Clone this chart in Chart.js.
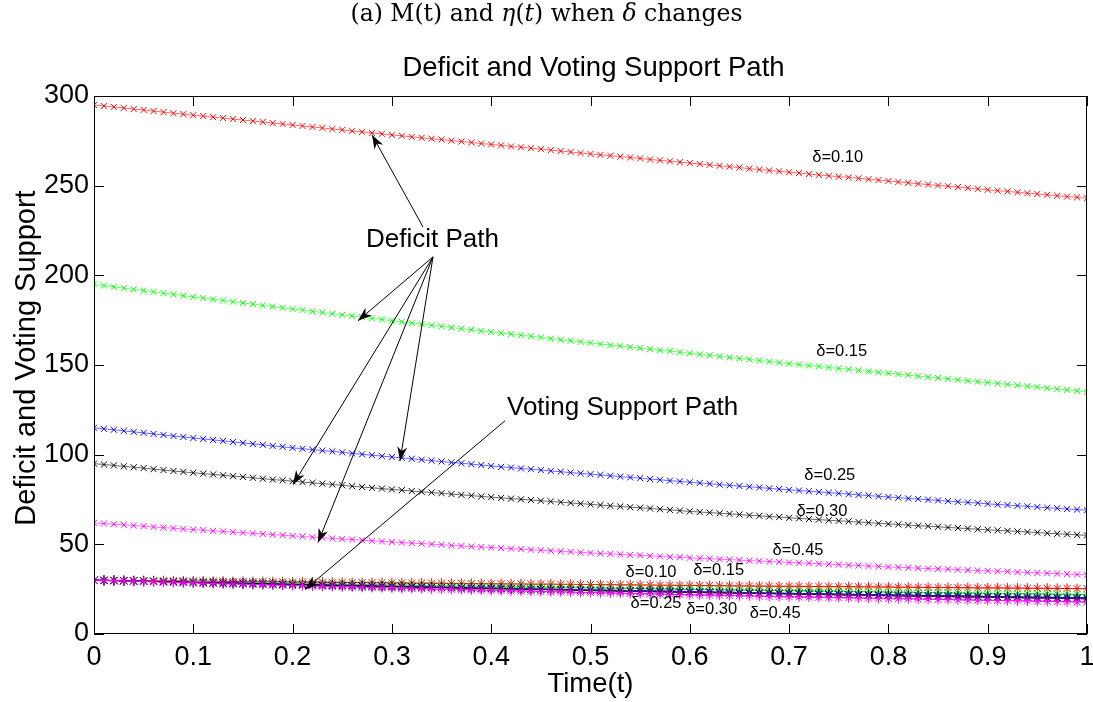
<!DOCTYPE html>
<html>
<head>
<meta charset="utf-8">
<script src="https://cdn.jsdelivr.net/npm/chart.js@4.4.0/dist/chart.umd.min.js"></script>
<style>
  html, body { margin: 0; padding: 0; background: #fff; }
  #wrap { width: 1093px; height: 702px; }
</style>
</head>
<body>
<div id="wrap"><canvas id="plot" width="1093" height="702"></canvas></div>
<script>
// time grid (t = 0 .. 1)
const times = [0,0.01,0.02,0.03,0.04,0.05,0.06,0.07,0.08,0.09,0.1,0.11,0.12,0.13,0.14,0.15,0.16,0.17,0.18,0.19,0.2,0.21,0.22,0.23,0.24,0.25,0.26,0.27,0.28,0.29,0.3,0.31,0.32,0.33,0.34,0.35,0.36,0.37,0.38,0.39,0.4,0.41,0.42,0.43,0.44,0.45,0.46,0.47,0.48,0.49,0.5,0.51,0.52,0.53,0.54,0.55,0.56,0.57,0.58,0.59,0.6,0.61,0.62,0.63,0.64,0.65,0.66,0.67,0.68,0.69,0.7,0.71,0.72,0.73,0.74,0.75,0.76,0.77,0.78,0.79,0.8,0.81,0.82,0.83,0.84,0.85,0.86,0.87,0.88,0.89,0.9,0.91,0.92,0.93,0.94,0.95,0.96,0.97,0.98,0.99,1]

// deficit path M(t)
const deficit010 = [295.0,294.4,293.9,293.3,292.7,292.2,291.6,291.0,290.4,289.9,289.3,288.8,288.2,287.7,287.1,286.6,286.0,285.5,284.9,284.4,283.8,283.3,282.7,282.2,281.6,281.1,280.5,280.0,279.4,278.9,278.3,277.8,277.2,276.7,276.2,275.7,275.1,274.6,274.1,273.5,273.0,272.5,271.9,271.4,270.9,270.4,269.8,269.3,268.8,268.2,267.7,267.2,266.7,266.2,265.7,265.2,264.6,264.1,263.6,263.1,262.6,262.1,261.6,261.1,260.6,260.1,259.5,259.0,258.5,258.0,257.5,257.0,256.5,256.0,255.5,255.0,254.6,254.1,253.6,253.1,252.6,252.1,251.6,251.1,250.6,250.1,249.7,249.2,248.7,248.2,247.7,247.2,246.8,246.3,245.8,245.4,244.9,244.4,243.9,243.5,243.0]
const deficit015 = [195.0,194.3,193.6,192.9,192.2,191.5,190.8,190.1,189.4,188.7,188.0,187.3,186.6,186.0,185.3,184.6,183.9,183.2,182.6,181.9,181.2,180.6,179.9,179.3,178.6,178.0,177.3,176.7,176.0,175.4,174.7,174.1,173.4,172.8,172.2,171.6,170.9,170.3,169.7,169.0,168.4,167.8,167.2,166.6,166.0,165.4,164.7,164.1,163.5,162.9,162.3,161.7,161.1,160.6,160.0,159.4,158.8,158.2,157.7,157.1,156.5,155.9,155.4,154.8,154.2,153.7,153.1,152.5,151.9,151.4,150.8,150.3,149.7,149.2,148.6,148.1,147.6,147.0,146.5,145.9,145.4,144.9,144.4,143.8,143.3,142.8,142.3,141.8,141.2,140.7,140.2,139.7,139.2,138.7,138.2,137.7,137.1,136.6,136.1,135.6,135.1]
const deficit025 = [115.0,114.4,113.9,113.3,112.7,112.2,111.6,111.0,110.4,109.9,109.3,108.8,108.2,107.7,107.1,106.6,106.0,105.5,104.9,104.4,103.8,103.3,102.8,102.3,101.8,101.3,100.7,100.2,99.7,99.2,98.7,98.2,97.7,97.2,96.7,96.2,95.7,95.2,94.7,94.2,93.7,93.2,92.8,92.3,91.9,91.4,90.9,90.5,90.0,89.6,89.1,88.7,88.2,87.8,87.3,86.9,86.4,86.0,85.5,85.1,84.6,84.2,83.8,83.3,82.9,82.5,82.1,81.7,81.2,80.8,80.4,80.0,79.6,79.2,78.8,78.4,78.0,77.6,77.2,76.8,76.4,76.0,75.6,75.3,74.9,74.5,74.1,73.7,73.4,73.0,72.6,72.2,71.9,71.5,71.2,70.8,70.4,70.1,69.7,69.4,69.0]
const deficit030 = [95.0,94.5,94.0,93.5,93.0,92.5,91.9,91.4,90.9,90.4,89.9,89.4,89.0,88.5,88.0,87.6,87.1,86.6,86.1,85.7,85.2,84.7,84.3,83.8,83.4,82.9,82.4,82.0,81.5,81.1,80.6,80.2,79.7,79.3,78.9,78.5,78.0,77.6,77.2,76.7,76.3,75.9,75.5,75.1,74.7,74.3,73.9,73.5,73.1,72.7,72.3,71.9,71.5,71.1,70.7,70.4,70.0,69.6,69.2,68.8,68.4,68.0,67.7,67.3,67.0,66.6,66.2,65.9,65.5,65.2,64.8,64.5,64.1,63.8,63.4,63.1,62.8,62.4,62.1,61.7,61.4,61.1,60.7,60.4,60.1,59.8,59.4,59.1,58.8,58.4,58.1,57.8,57.5,57.2,56.9,56.6,56.2,55.9,55.6,55.3,55.0]
const deficit045 = [62.0,61.6,61.2,60.9,60.5,60.1,59.7,59.3,59.0,58.6,58.2,57.9,57.5,57.2,56.8,56.5,56.1,55.8,55.4,55.1,54.7,54.4,54.0,53.7,53.3,53.0,52.7,52.3,52.0,51.6,51.3,51.0,50.7,50.4,50.1,49.8,49.4,49.1,48.8,48.5,48.2,47.9,47.6,47.3,47.0,46.7,46.4,46.1,45.8,45.5,45.2,44.9,44.7,44.4,44.1,43.9,43.6,43.3,43.0,42.8,42.5,42.2,42.0,41.7,41.5,41.2,40.9,40.7,40.4,40.2,39.9,39.7,39.4,39.2,38.9,38.7,38.4,38.2,37.9,37.7,37.4,37.2,37.0,36.7,36.5,36.3,36.1,35.9,35.6,35.4,35.2,35.0,34.8,34.5,34.3,34.1,33.9,33.7,33.4,33.2,33.0]

// voting support path eta(t)
const voting010 = [30.0,30.0,29.9,29.9,29.8,29.8,29.7,29.7,29.6,29.6,29.5,29.5,29.4,29.4,29.3,29.3,29.2,29.2,29.1,29.1,29.0,29.0,28.9,28.9,28.8,28.8,28.7,28.7,28.6,28.6,28.5,28.5,28.4,28.4,28.3,28.3,28.2,28.2,28.1,28.1,28.0,28.0,27.9,27.9,27.8,27.8,27.8,27.7,27.7,27.6,27.6,27.5,27.5,27.4,27.4,27.3,27.3,27.2,27.2,27.1,27.1,27.0,27.0,26.9,26.9,26.8,26.8,26.7,26.7,26.6,26.6,26.6,26.5,26.5,26.4,26.4,26.4,26.3,26.3,26.2,26.2,26.1,26.1,26.0,26.0,25.9,25.9,25.8,25.8,25.7,25.7,25.7,25.6,25.6,25.5,25.5,25.5,25.4,25.4,25.3,25.3]
const voting015 = [30.0,29.9,29.8,29.7,29.6,29.5,29.4,29.4,29.3,29.2,29.1,29.0,28.9,28.8,28.7,28.6,28.6,28.5,28.4,28.3,28.2,28.1,28.0,27.9,27.9,27.8,27.7,27.6,27.5,27.4,27.3,27.3,27.2,27.1,27.0,26.9,26.8,26.8,26.7,26.6,26.5,26.4,26.3,26.3,26.2,26.1,26.0,25.9,25.9,25.8,25.7,25.6,25.5,25.5,25.4,25.3,25.2,25.1,25.1,25.0,24.9,24.8,24.8,24.7,24.6,24.5,24.5,24.4,24.3,24.2,24.2,24.1,24.0,23.9,23.9,23.8,23.7,23.6,23.6,23.5,23.4,23.3,23.3,23.2,23.1,23.1,23.0,22.9,22.8,22.8,22.7,22.6,22.6,22.5,22.4,22.4,22.3,22.2,22.1,22.1,22.0]
const voting025 = [30.0,29.9,29.8,29.7,29.5,29.4,29.3,29.2,29.1,29.0,28.8,28.7,28.6,28.5,28.4,28.3,28.2,28.1,27.9,27.8,27.7,27.6,27.5,27.4,27.3,27.2,27.1,27.0,26.9,26.7,26.6,26.5,26.4,26.3,26.2,26.1,26.0,25.9,25.8,25.7,25.6,25.5,25.4,25.3,25.2,25.1,25.0,24.9,24.8,24.7,24.6,24.5,24.4,24.3,24.2,24.2,24.1,24.0,23.9,23.8,23.7,23.6,23.5,23.4,23.3,23.2,23.1,23.0,22.9,22.8,22.7,22.6,22.5,22.5,22.4,22.3,22.2,22.1,22.0,22.0,21.9,21.8,21.7,21.6,21.5,21.4,21.4,21.3,21.2,21.1,21.0,20.9,20.8,20.8,20.7,20.6,20.5,20.4,20.4,20.3,20.2]
const voting030 = [30.0,29.9,29.8,29.6,29.5,29.4,29.3,29.1,29.0,28.9,28.7,28.6,28.5,28.4,28.3,28.2,28.0,27.9,27.8,27.7,27.6,27.4,27.3,27.2,27.1,27.0,26.9,26.7,26.6,26.5,26.4,26.3,26.2,26.1,26.0,25.9,25.7,25.6,25.5,25.4,25.3,25.2,25.1,25.0,24.9,24.8,24.7,24.6,24.5,24.3,24.2,24.1,24.0,23.9,23.8,23.7,23.6,23.5,23.4,23.3,23.2,23.1,23.0,22.9,22.8,22.7,22.7,22.6,22.5,22.4,22.3,22.2,22.1,22.0,21.9,21.8,21.7,21.6,21.5,21.4,21.3,21.2,21.1,21.1,21.0,20.9,20.8,20.7,20.6,20.6,20.5,20.4,20.3,20.2,20.1,20.0,20.0,19.9,19.8,19.7,19.6]
const voting045 = [30.0,29.8,29.7,29.5,29.4,29.2,29.1,28.9,28.8,28.6,28.5,28.3,28.2,28.0,27.9,27.8,27.6,27.5,27.3,27.2,27.0,26.9,26.7,26.6,26.5,26.3,26.2,26.0,25.9,25.8,25.7,25.5,25.4,25.3,25.1,25.0,24.9,24.8,24.6,24.5,24.4,24.2,24.1,24.0,23.9,23.7,23.6,23.5,23.4,23.2,23.1,23.0,22.9,22.8,22.6,22.5,22.4,22.3,22.2,22.0,21.9,21.8,21.7,21.6,21.5,21.4,21.3,21.1,21.0,20.9,20.8,20.7,20.6,20.5,20.4,20.3,20.2,20.1,20.0,19.9,19.8,19.7,19.6,19.5,19.4,19.3,19.2,19.1,19.0,18.9,18.8,18.7,18.6,18.5,18.4,18.3,18.2,18.1,18.0,17.9,17.8]

const xTicks = [0,0.1,0.2,0.3,0.4,0.5,0.6,0.7,0.8,0.9,1]
const yTicks = [0,50,100,150,200,250,300]

const deficitLabels = ['δ=0.10','δ=0.15','δ=0.25','δ=0.30','δ=0.45']
const votingLabels = ['δ=0.10','δ=0.15','δ=0.25','δ=0.30','δ=0.45']

const sansFont = '"Liberation Sans", Arial, Helvetica, sans-serif'

function pts(vals) {
  return vals.map((v, i) => ({ x: times[i], y: v }))
}

function series(vals, color, style, radius) {
  return {
    data: pts(vals),
    borderColor: color,
    backgroundColor: color,
    borderWidth: 0.6,
    pointStyle: style,
    pointRadius: radius,
    pointBorderWidth: 1,
    pointBorderColor: color,
    pointHoverRadius: radius,
  }
}

// first entry is drawn on top
const datasets = [
  series(voting045, '#ff00ff', 'star', 5),
  series(voting030, '#000000', 'star', 5),
  series(voting025, '#0000ff', 'star', 5),
  series(voting015, '#00ff00', 'star', 5),
  series(voting010, '#ff0000', 'star', 5),
  series(deficit045, '#ff00ff', 'crossRot', 4.3),
  series(deficit030, '#000000', 'crossRot', 4.3),
  series(deficit025, '#0000ff', 'crossRot', 4.3),
  series(deficit015, '#00ff00', 'crossRot', 4.3),
  series(deficit010, '#ff0000', 'crossRot', 4.3),
]

function arrow(ctx, x0, y0, x1, y1) {
  ctx.beginPath()
  ctx.moveTo(x0, y0)
  ctx.lineTo(x1, y1)
  ctx.stroke()
  const a = Math.atan2(y1 - y0, x1 - x0)
  const len = 14, wid = 5
  const bx = x1 - len * Math.cos(a), by = y1 - len * Math.sin(a)
  const mx = x1 - len * 0.7 * Math.cos(a), my = y1 - len * 0.7 * Math.sin(a)
  ctx.beginPath()
  ctx.moveTo(x1, y1)
  ctx.lineTo(bx - wid * Math.sin(a), by + wid * Math.cos(a))
  ctx.lineTo(mx, my)
  ctx.lineTo(bx + wid * Math.sin(a), by - wid * Math.cos(a))
  ctx.closePath()
  ctx.fill()
}

const decorations = {
  id: 'decorations',
  afterDatasetsDraw(chart) {
    const ctx = chart.ctx
    const xs = chart.scales.x, ys = chart.scales.y
    const a = chart.chartArea
    const X = v => xs.getPixelForValue(v)
    const Y = v => ys.getPixelForValue(v)
    ctx.save()
    ctx.strokeStyle = '#000'
    ctx.fillStyle = '#000'
    ctx.lineWidth = 1

    // frame + inward ticks
    ctx.strokeRect(a.left + 0.5, a.top + 0.5, a.right - a.left - 1, a.bottom - a.top - 1)
    const tl = 10
    ctx.beginPath()
    xTicks.forEach(t => {
      const px = Math.round(X(t)) + 0.5
      ctx.moveTo(px, a.bottom); ctx.lineTo(px, a.bottom - tl)
      ctx.moveTo(px, a.top); ctx.lineTo(px, a.top + tl)
    })
    yTicks.forEach(t => {
      const py = Math.round(Y(t)) + 0.5
      ctx.moveTo(a.left, py); ctx.lineTo(a.left + tl, py)
      ctx.moveTo(a.right, py); ctx.lineTo(a.right - tl, py)
    })
    ctx.stroke()

    // arrows
    ctx.lineWidth = 1
    arrow(ctx, X(0.3313), Y(227.0), X(0.280), Y(278.3))
    arrow(ctx, X(0.3414), Y(210.3), X(0.2659), Y(174.7))
    arrow(ctx, X(0.3414), Y(210.3), X(0.2004), Y(83.3))
    arrow(ctx, X(0.3414), Y(210.3), X(0.2256), Y(51.0))
    arrow(ctx, X(0.3414), Y(210.3), X(0.3082), Y(96.6))
    arrow(ctx, X(0.4139), Y(118.9), X(0.2125), Y(24.8))

    // annotation text
    ctx.textBaseline = 'middle'
    ctx.textAlign = 'left'
    ctx.font = '26px ' + sansFont
    ctx.fillText('Deficit Path', X(0.2739), Y(219.8))
    ctx.fillText('Voting Support Path', X(0.4159), Y(126.2))

    ctx.textAlign = 'center'
    ctx.font = '16.5px ' + sansFont
    const upPos = [[0.749, 266.0], [0.753, 157.4], [0.741, 88.3], [0.733, 68.2], [0.709, 46.5]]
    deficitLabels.forEach((s, i) => ctx.fillText(s, X(upPos[i][0]), Y(upPos[i][1])))
    const lowPos = [[0.561, 34.3], [0.629, 35.4], [0.566, 17.0], [0.622, 13.6], [0.686, 11.4]]
    votingLabels.forEach((s, i) => ctx.fillText(s, X(lowPos[i][0]), Y(lowPos[i][1])))

    // titles
    ctx.font = '27.5px ' + sansFont
    ctx.fillText('Deficit and Voting Support Path', 593.5, 68)
    ctx.fillText('Time(t)', 590.5, 684)
    ctx.save()
    ctx.translate(27, 358)
    ctx.rotate(-Math.PI / 2)
    ctx.font = '29px ' + sansFont
    ctx.fillText('Deficit and Voting Support', 0, 0)
    ctx.restore()

    // caption (LaTeX style)
    const parts = [
      ['(a) M(t) and ', ''],
      ['η', 'italic '],
      ['(', ''],
      ['t', 'italic '],
      [') when ', ''],
      ['δ', 'italic '],
      [' changes', ''],
    ]
    const capSize = 23.5
    const serif = '"DejaVu Serif", "Liberation Serif", serif'
    let total = 0
    parts.forEach(p => { ctx.font = p[1] + capSize + 'px ' + serif; total += ctx.measureText(p[0]).width })
    let cx = 546.5 - total / 2
    ctx.textAlign = 'left'
    parts.forEach(p => {
      ctx.font = p[1] + capSize + 'px ' + serif
      ctx.fillText(p[0], cx, 15)
      cx += ctx.measureText(p[0]).width
    })
    ctx.restore()
  }
}

const chart = new Chart(document.getElementById('plot'), {
  type: 'line',
  data: { datasets: datasets },
  options: {
    responsive: false,
    animation: false,
    devicePixelRatio: 1,
    layout: { padding: { top: 96, right: 6, left: 0, bottom: 0 } },
    plugins: { legend: { display: false }, tooltip: { enabled: false }, title: { display: false } },
    scales: {
      x: {
        type: 'linear',
        min: 0,
        max: 1,
        afterFit: s => { s.height = 68; s.paddingLeft = 0; s.paddingRight = 0 },
        afterBuildTicks: s => { s.ticks = xTicks.map(v => ({ value: v })) },
        grid: { display: false, drawTicks: false },
        border: { display: false },
        ticks: {
          padding: 7,
          color: '#000',
          font: { family: sansFont, size: 27 },
          maxRotation: 0,
          callback: v => (v === 0 || v === 1) ? String(v) : v.toFixed(1),
        },
      },
      y: {
        type: 'linear',
        min: 0,
        max: 300,
        afterFit: s => { s.width = 94; s.paddingTop = 0; s.paddingBottom = 0 },
        afterBuildTicks: s => { s.ticks = yTicks.map(v => ({ value: v })) },
        grid: { display: false, drawTicks: false },
        border: { display: false },
        ticks: {
          padding: 5,
          color: '#000',
          font: { family: sansFont, size: 27 },
        },
      },
    },
  },
  plugins: [decorations],
})
</script>
</body>
</html>
